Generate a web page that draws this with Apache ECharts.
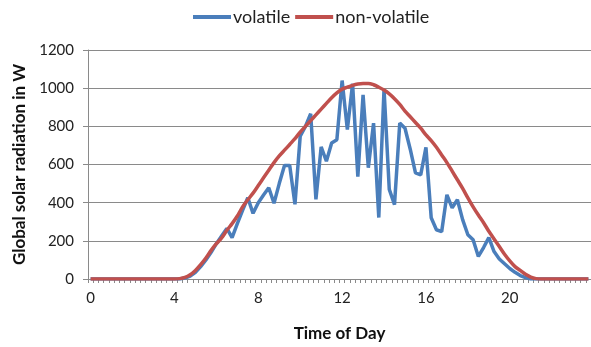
<!DOCTYPE html>
<html>
<head>
    <meta charset="UTF-8" />
    <title>solar radiation</title>
    <script src="https://cdn.jsdelivr.net/npm/echarts@6/dist/echarts.min.js"></script>
    <style>
        html, body { margin: 0; padding: 0; background: #fff; }
        #main { width: 591px; height: 347px; }
    </style>
</head>
<body>
    <div id="main"></div>
    <script>
        // quarter-hour steps, 0:00 .. 23:45
        var hourLabels = ['0', '4', '8', '12', '16', '20'];
        var categories = [];
        for (var q = 0; q < 96; q++) {
            categories.push(q % 16 === 0 ? hourLabels[q / 16] : String(q / 4));
        }

        var volatileValues = [
            0, 0, 0, 0, 0, 0, 0, 0, 0, 0, 0, 0, 0, 0, 0, 0,
            0, 0, 5, 15, 35, 65, 100, 140, 185, 225, 265, 217, 290, 360, 426, 344,
            400, 440, 478, 397, 500, 595, 595, 391, 748, 800, 866, 417, 692, 617, 713, 730,
            1040, 783, 1023, 536, 965, 583, 817, 322, 995, 470, 390, 817, 790, 680, 556, 546,
            690, 321, 258, 248, 441, 373, 415, 311, 232, 206, 118, 165, 217, 144, 105, 80,
            55, 35, 18, 7, 0, 0, 0, 0, 0, 0, 0, 0, 0, 0, 0, 0
        ];
        var nonVolatileValues = [
            0, 0, 0, 0, 0, 0, 0, 0, 0, 0, 0, 0, 0, 0, 0, 0,
            0, 2, 8, 22, 45, 75, 110, 150, 185, 215, 255, 290, 330, 378, 415, 450,
            490, 530, 570, 610, 645, 675, 705, 735, 770, 800, 830, 860, 890, 920, 950, 975,
            995, 1005, 1015, 1022, 1025, 1025, 1018, 1005, 990, 970, 945, 915, 880, 850, 820, 790,
            755, 725, 690, 650, 610, 565, 520, 475, 425, 378, 335, 295, 250, 210, 170, 130,
            95, 65, 45, 25, 10, 2, 0, 0, 0, 0, 0, 0, 0, 0, 0, 0
        ];

        var font = 'Lato, "Open Sans", sans-serif';
        var myChart = echarts.init(document.getElementById('main'));
        var option = {
            animation: false,
            textStyle: { fontFamily: font },
            legend: {
                top: 3,
                left: 188,
                itemWidth: 38,
                itemHeight: 4,
                itemGap: 5,
                icon: 'rect',
                textStyle: { fontSize: 18, color: '#222', fontFamily: font, padding: [0, 0, 0, -3] },
                data: ['volatile', 'non-volatile']
            },
            grid: { left: 88, right: 0, top: 50, bottom: 68 },
            xAxis: {
                type: 'category',
                data: categories,
                boundaryGap: true,
                name: 'Time of Day',
                nameLocation: 'middle',
                nameGap: 46,
                nameTextStyle: { fontSize: 17, fontWeight: 'bold', color: '#111', fontFamily: font },
                axisLine: { lineStyle: { color: '#8a8a8a', width: 1 } },
                axisTick: { show: true, interval: 0, length: 4, lineStyle: { color: '#8a8a8a' } },
                axisLabel: {
                    interval: 15,
                    fontSize: 15,
                    color: '#222',
                    margin: 12,
                    fontFamily: font
                }
            },
            yAxis: {
                type: 'value',
                min: 0,
                max: 1200,
                interval: 200,
                name: 'Global solar radiation in W',
                nameLocation: 'middle',
                nameGap: 58,
                nameTextStyle: { fontSize: 17, fontWeight: 'bold', color: '#111', fontFamily: font },
                axisLine: { show: true, lineStyle: { color: '#8a8a8a', width: 1 } },
                axisTick: { show: true, length: 5, lineStyle: { color: '#8a8a8a' } },
                axisLabel: {
                    fontSize: 15, color: '#222', margin: 14, fontFamily: font,
                    formatter: function (v) { return String(v); }
                },
                splitLine: { lineStyle: { color: '#8a8a8a', width: 1 } }
            },
            series: [
                {
                    name: 'volatile',
                    type: 'line',
                    data: volatileValues,
                    showSymbol: false,
                    color: '#4a7ebb',
                    lineStyle: { width: 3.5, color: '#4a7ebb' },
                    z: 2
                },
                {
                    name: 'non-volatile',
                    type: 'line',
                    data: nonVolatileValues,
                    showSymbol: false,
                    smooth: 0.3,
                    color: '#c0504d',
                    lineStyle: { width: 3.5, color: '#c0504d' },
                    z: 3
                }
            ]
        };
        myChart.setOption(option);
    </script>
</body>
</html>
